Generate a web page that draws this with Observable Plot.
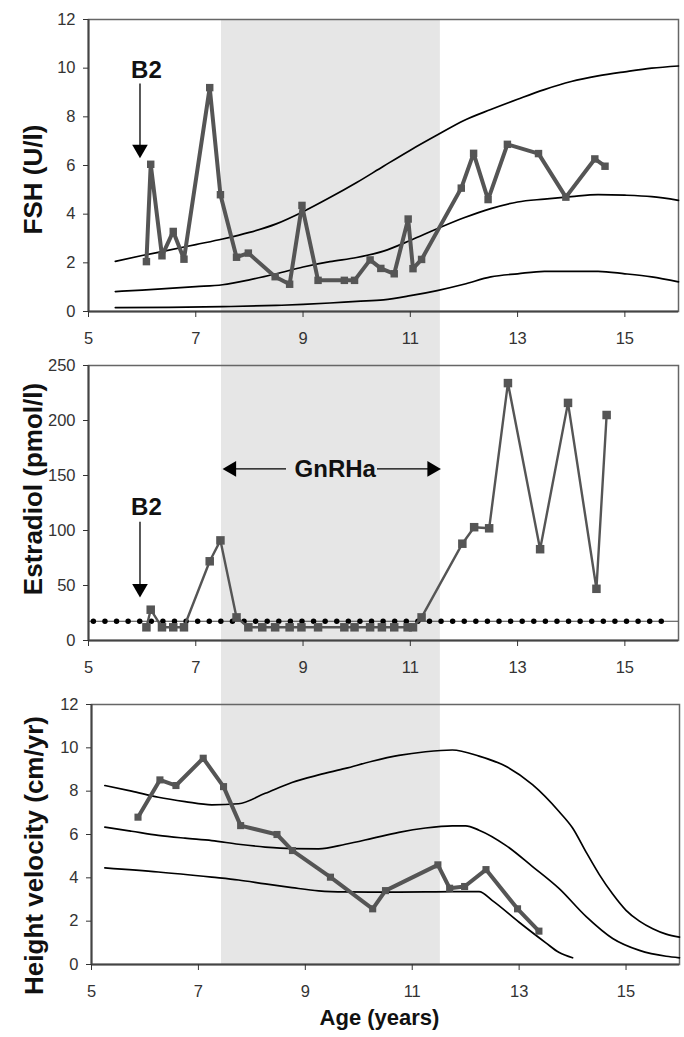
<!DOCTYPE html>
<html>
<head>
<meta charset="utf-8">
<script src="https://cdn.jsdelivr.net/npm/d3@7"></script>
<script src="https://cdn.jsdelivr.net/npm/@observablehq/plot@0.6"></script>
<style>
  body { margin: 0; background: #fff; }
  #chart svg { display: block; }
</style>
</head>
<body>
<div id="chart"></div>
<script>
// ---------- data ----------
const ageTicks = [5, 7, 9, 11, 13, 15];
const fshTicks = [0, 2, 4, 6, 8, 10, 12];
const e2Ticks = [0, 50, 100, 150, 200, 250];
const hvTicks = [0, 2, 4, 6, 8, 10, 12];
const gnrhaPeriod = [7.48, 11.56];

// FSH (U/l)
const fshAge   = [6.08, 6.16, 6.37, 6.58, 6.78, 7.26, 7.46, 7.76, 7.98, 8.48, 8.75, 8.98, 9.28, 9.77, 9.96, 10.25, 10.45, 10.70, 10.96, 11.05, 11.21, 11.95, 12.18, 12.45, 12.81, 13.39, 13.90, 14.44, 14.63];
const fshValue = [2.05, 6.05, 2.29, 3.29, 2.15, 9.2, 4.8, 2.23, 2.4, 1.43, 1.12, 4.36, 1.28, 1.28, 1.28, 2.12, 1.77, 1.55, 3.8, 1.76, 2.14, 5.07, 6.5, 4.6, 6.87, 6.49, 4.7, 6.27, 5.97];
const fshRefHigh = [[5.5,2.06],[6,2.3],[6.5,2.52],[7,2.75],[7.5,2.98],[8,3.25],[8.5,3.6],[9,4.1],[9.5,4.68],[10,5.3],[10.5,5.97],[11,6.63],[11.5,7.25],[12,7.85],[12.5,8.3],[13,8.72],[13.5,9.12],[14,9.45],[14.5,9.68],[15,9.85],[15.5,10.0],[16,10.09]];
const fshRefMid  = [[5.5,0.82],[6,0.88],[6.5,0.95],[7,1.02],[7.5,1.1],[8,1.3],[8.5,1.55],[9,1.83],[9.5,2.05],[10,2.22],[10.5,2.48],[11,2.92],[11.5,3.4],[12,3.85],[12.5,4.23],[13,4.5],[13.5,4.62],[14,4.72],[14.5,4.8],[15,4.78],[15.5,4.72],[16,4.57]];
const fshRefLow  = [[5.5,0.16],[6.5,0.17],[7.5,0.2],[8.5,0.25],[9,0.29],[9.5,0.35],[10,0.42],[10.5,0.48],[11,0.65],[11.5,0.86],[12,1.12],[12.5,1.42],[13,1.55],[13.5,1.65],[14,1.65],[14.5,1.65],[15,1.55],[15.5,1.42],[16,1.22]];

// Estradiol (pmol/l)
const e2Age   = [6.08, 6.16, 6.37, 6.58, 6.78, 7.26, 7.46, 7.76, 7.98, 8.24, 8.48, 8.75, 8.97, 9.28, 9.77, 9.96, 10.25, 10.47, 10.70, 10.95, 11.05, 11.21, 11.97, 12.19, 12.47, 12.82, 13.42, 13.94, 14.47, 14.66];
const e2Value = [12, 28, 12, 12, 12, 72, 91, 21, 12, 12, 12, 12, 12, 12, 12, 12, 12, 12, 12, 12, 12, 21, 88, 103, 102, 234, 83, 216, 47, 205];
const e2DetectionLimit = 17.5;
const e2DotRange = [5.1, 15.69];

// Height velocity (cm/yr)
const hvAge   = [5.87, 6.28, 6.58, 7.09, 7.47, 7.79, 8.47, 8.76, 9.47, 10.26, 10.5, 11.48, 11.7, 11.98, 12.38, 12.97, 13.37];
const hvValue = [6.8, 8.52, 8.26, 9.52, 8.21, 6.41, 6.0, 5.26, 4.03, 2.57, 3.41, 4.6, 3.52, 3.6, 4.38, 2.57, 1.54];
const hvRefHigh = [[5.25,8.26],[5.75,8.0],[6.25,7.72],[6.75,7.52],[7.25,7.37],[7.75,7.42],[8.25,7.9],[8.75,8.4],[9.25,8.75],[9.75,9.05],[10.25,9.38],[10.75,9.65],[11.25,9.82],[11.75,9.9],[12.25,9.62],[12.75,9.15],[13.25,8.3],[13.75,7.05],[14.0,6.3],[14.25,5.2],[14.5,4.15],[14.75,3.25],[15.0,2.5],[15.25,2.0],[15.5,1.65],[15.75,1.4],[16,1.26]];
const hvRefMid  = [[5.25,6.34],[5.75,6.15],[6.25,5.96],[6.75,5.83],[7.25,5.72],[7.75,5.55],[8.25,5.42],[8.75,5.35],[9.25,5.34],[9.75,5.55],[10.25,5.82],[10.75,6.1],[11.25,6.3],[11.75,6.4],[12.0,6.4],[12.25,6.2],[12.75,5.5],[13.25,4.52],[13.75,3.5],[14.25,2.22],[14.75,1.2],[15.25,0.65],[15.75,0.38],[16,0.31]];
const hvRefLow  = [[5.25,4.46],[6.25,4.27],[7.25,4.03],[7.75,3.9],[8.25,3.72],[8.75,3.55],[9.25,3.4],[9.75,3.35],[10.5,3.34],[11.25,3.35],[11.75,3.36],[12.25,3.36],[12.5,2.95],[13.0,1.95],[13.5,1.0],[13.75,0.55],[14.0,0.31]];

// annotations
const b2Fsh = [{x: 5.96, tx: 6.08, ty: 9.9, from: 9.1, tip: 6.3}];
const b2E2  = [{x: 5.96, tx: 6.08, ty: 121, from: 102, tip: 39}];
const gnrhaLabel = [{tx: 9.6, y: 156, leftFrom: 8.58, leftTip: 7.5, rightFrom: 10.5, rightTip: 11.57}];

// ---------- drawing ----------
const FONT = "'Liberation Sans', Arial, Helvetica, sans-serif";
const DATA_COL = "#555";
const SHADE = "#e6e6e6";
const zip = (a, b) => a.map((v, i) => ({x: v, y: b[i]}));

function axes(yTicks) {
  return [
    Plot.frame({stroke: "#666", strokeWidth: 1.5}),
    Plot.ruleX([5], {stroke: "#444", strokeWidth: 2}),
    Plot.ruleY([0], {stroke: "#444", strokeWidth: 2}),
    Plot.axisX(ageTicks, {anchor: "bottom", tickSize: 6, tickPadding: 15, fontSize: 16.5, color: "#333", label: null, tickFormat: d => d}),
    Plot.axisY(yTicks, {anchor: "left", tickSize: 5, tickPadding: 8, fontSize: 16.5, color: "#333", label: null, tickFormat: d => d})
  ];
}
function refLine(arr) {
  return Plot.line(arr, {x: d => d[0], y: d => d[1], curve: "monotone-x", stroke: "#000", strokeWidth: 1.7});
}
function yTitle(txt, dy, dx) {
  return Plot.text([txt], {text: d => d, frameAnchor: "left", rotate: -90, dx, dy, fontSize: 26, fontWeight: "bold", fill: "#111", textAnchor: "middle"});
}
function downArrow(arr) {
  return [
    Plot.ruleX(arr, {x: "x", y1: "from", y2: "tip", stroke: "#000", strokeWidth: 1.3, dy: -6}),
    Plot.dot(arr, {x: "x", y: "tip", symbol: "triangle", rotate: 180, r: 5.8, fill: "#000", stroke: "none", dy: -9}),
    Plot.text(arr, {x: "tx", y: "ty", text: () => "B2", fontSize: 24, fontWeight: "bold", fill: "#111"})
  ];
}

// Panel 1 : FSH
const p1 = {h: 345, mt: 19, mb: 34, ml: 88, mr: 6};
const p1k = 12 / (p1.h - p1.mt - p1.mb);
const fsh = Plot.plot({
  width: 684, height: p1.h, marginTop: p1.mt, marginBottom: p1.mb, marginLeft: p1.ml, marginRight: p1.mr,
  style: {fontFamily: FONT, fontSize: "16px", background: "transparent", overflow: "visible"},
  x: {domain: [5, 16], axis: null},
  y: {domain: [0, 12], axis: null},
  marks: [
    Plot.rect([gnrhaPeriod], {x1: d => d[0], x2: d => d[1], y1: () => -p1.mb * p1k, y2: () => 12, fill: SHADE}),
    ...axes(fshTicks),
    refLine(fshRefHigh), refLine(fshRefMid), refLine(fshRefLow),
    Plot.line(zip(fshAge, fshValue), {x: "x", y: "y", stroke: DATA_COL, strokeWidth: 4}),
    Plot.dot(zip(fshAge, fshValue), {x: "x", y: "y", symbol: "square", r: 4.2, fill: DATA_COL, stroke: "none"}),
    ...downArrow(b2Fsh),
    yTitle("FSH (U/l)", 14, -55)
  ]
});

// Panel 2 : Estradiol
const p2 = {h: 329, mt: 20, mb: 34, ml: 88, mr: 6};
const p2k = 250 / (p2.h - p2.mt - p2.mb);
const e2 = Plot.plot({
  width: 684, height: p2.h, marginTop: p2.mt, marginBottom: p2.mb, marginLeft: p2.ml, marginRight: p2.mr,
  style: {fontFamily: FONT, fontSize: "16px", background: "transparent", overflow: "visible"},
  x: {domain: [5, 16], axis: null},
  y: {domain: [0, 250], axis: null},
  marks: [
    Plot.rect([gnrhaPeriod], {x1: d => d[0], x2: d => d[1], y1: () => -p2.mb * p2k, y2: () => 250 + p2.mt * p2k, fill: SHADE}),
    ...axes(e2Ticks),
    Plot.ruleY([e2DetectionLimit], {stroke: "#444", strokeWidth: 1}),
    Plot.ruleY([e2DetectionLimit], {x1: () => e2DotRange[0], x2: () => e2DotRange[1], stroke: "#000", strokeWidth: 5.5, strokeLinecap: "round", strokeDasharray: "0 11.59"}),
    Plot.line(zip(e2Age, e2Value), {x: "x", y: "y", stroke: DATA_COL, strokeWidth: 2.4}),
    Plot.dot(zip(e2Age, e2Value), {x: "x", y: "y", symbol: "square", r: 4.8, fill: DATA_COL, stroke: "none"}),
    ...downArrow(b2E2),
    Plot.ruleY(gnrhaLabel, {y: "y", x1: "leftFrom", x2: "leftTip", stroke: "#000", strokeWidth: 1.3, dx: 6}),
    Plot.dot(gnrhaLabel, {x: "leftTip", y: "y", symbol: "triangle", rotate: -90, r: 5.8, fill: "#000", stroke: "none", dx: 9}),
    Plot.ruleY(gnrhaLabel, {y: "y", x1: "rightFrom", x2: "rightTip", stroke: "#000", strokeWidth: 1.3, dx: -6}),
    Plot.dot(gnrhaLabel, {x: "rightTip", y: "y", symbol: "triangle", rotate: 90, r: 5.8, fill: "#000", stroke: "none", dx: -9}),
    Plot.text(gnrhaLabel, {x: "tx", y: "y", text: () => "GnRHa", fontSize: 24, fontWeight: "bold", fill: "#111"}),
    yTitle("Estradiol (pmol/l)", -14, -55)
  ]
});

// Panel 3 : Height velocity
const p3 = {h: 363, mt: 30, mb: 73, ml: 91, mr: 5};
const p3k = 12 / (p3.h - p3.mt - p3.mb);
const hv = Plot.plot({
  width: 684, height: p3.h, marginTop: p3.mt, marginBottom: p3.mb, marginLeft: p3.ml, marginRight: p3.mr,
  style: {fontFamily: FONT, fontSize: "16px", background: "transparent", overflow: "visible"},
  x: {domain: [5, 16], axis: null},
  y: {domain: [0, 12], axis: null},
  marks: [
    // the shaded band is one continuous column through all three panels: align it with the panels above
    Plot.rect([gnrhaPeriod], {x1: d => d[0], x2: d => d[1], y1: () => 0, y2: () => 12 + p3.mt * p3k, fill: SHADE, insetLeft: -2.6, insetRight: 1.8}),
    ...axes(hvTicks),
    refLine(hvRefHigh), refLine(hvRefMid), refLine(hvRefLow),
    Plot.line(zip(hvAge, hvValue), {x: "x", y: "y", stroke: DATA_COL, strokeWidth: 4}),
    Plot.dot(zip(hvAge, hvValue), {x: "x", y: "y", symbol: "square", r: 4, fill: DATA_COL, stroke: "none"}),
    yTitle("Height velocity (cm/yr)", 21, -57),
    Plot.text(["Age (years)"], {text: d => d, frameAnchor: "bottom", dy: 60, dx: -6, fontSize: 22, fontWeight: "bold", fill: "#111"})
  ]
});

document.getElementById("chart").append(fsh, e2, hv);
</script>
</body>
</html>
